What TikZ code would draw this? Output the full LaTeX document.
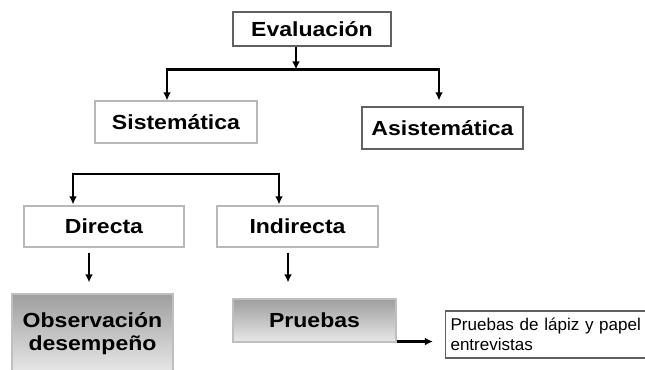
\documentclass[tikz,border=0pt]{standalone}
\usepackage{fontspec}
\setmainfont{Liberation Sans}
\newfontfamily\cajafont[FakeStretch=1.13]{Liberation Sans}
\usetikzlibrary{arrows.meta}

\tikzset{
  caja/.style={draw=black!28, line width=0.6pt, fill=white, align=center, inner sep=0pt,
    font=\cajafont\bfseries\fontsize{11.6}{13.2}\selectfont},
  cajaosc/.style={caja, draw=black!62},
  cajagris/.style={caja, draw=black!25, top color=black!38, bottom color=black!9},
  nota/.style={draw=black!62, line width=0.6pt, fill=white, align=left, inner xsep=0.1cm,
    font=\fontsize{9.7}{11.4}\selectfont},
  flecha/.style={line width=1.6pt, >={Latex[length=4.6pt,width=4.4pt]}},
  flechafina/.style={flecha, line width=1.2pt},
}

\begin{document}
\begin{tikzpicture}[x=0.02cm,y=-0.02cm]
 \pgfmathsetmacro{\px}{0.02}
 \clip (0,0) rectangle (645,369);

%% cajas
\node[cajaosc, minimum width=158*\px cm, minimum height=34*\px cm] (eval) at (312,29) {Evaluación};
\node[caja, minimum width=162*\px cm, minimum height=42*\px cm] (sis) at (176,122) {Sistemática};
\node[cajaosc, minimum width=161*\px cm, minimum height=42*\px cm] (asis) at (442.5,128) {Asistemática};
\node[caja, minimum width=160*\px cm, minimum height=41*\px cm] (dir) at (104,226.5) {Directa};
\node[caja, minimum width=161*\px cm, minimum height=41*\px cm] (ind) at (297.5,226.5) {Indirecta};
\node[cajagris, minimum width=161*\px cm, minimum height=79*\px cm] (obs) at (92.5,333.5) {Observación\\desempeño};
\node[cajagris, minimum width=163*\px cm, minimum height=43*\px cm] (pru) at (314.5,320.5) {Pruebas};
\node[nota, anchor=west, text width=200*\px cm, minimum height=47*\px cm] (lapiz) at (445,334.5)
  {Pruebas de lápiz y papel\\entrevistas};

%% barras
\coordinate (b1) at (296,69.5);
\coordinate (b1l) at (167,69.5);
\coordinate (b1r) at (439,69.5);
\coordinate (b2l) at (73,174);
\coordinate (b2r) at (279,174);

%% flechas
\draw[flecha,->] (eval.south -| b1) -- (b1);
\draw[flecha,<->,shorten >=0.12cm] (b1l |- sis.north) -- (b1l) -- (b1r) -- (b1r |- asis.north);
\draw[flecha,<->,shorten <=0.02cm,shorten >=0.02cm] (b2l |- dir.north) -- (b2l) -- (b2r) -- (b2r |- ind.north);

\draw[flechafina,->,shorten <=0.1cm,shorten >=0.22cm] ([xshift=-0.3cm]dir.south) -- ([xshift=-0.3cm]dir.south |- obs.north);
\draw[flechafina,->,shorten <=0.1cm,shorten >=0.32cm] ([xshift=-0.19cm]ind.south) -- ([xshift=-0.19cm]ind.south |- pru.north);
\draw[flecha,->,shorten >=0.24cm] ([yshift=0.02cm]pru.south east) -- ([yshift=0.02cm]pru.south east -| lapiz.west);

\end{tikzpicture}
\end{document}
